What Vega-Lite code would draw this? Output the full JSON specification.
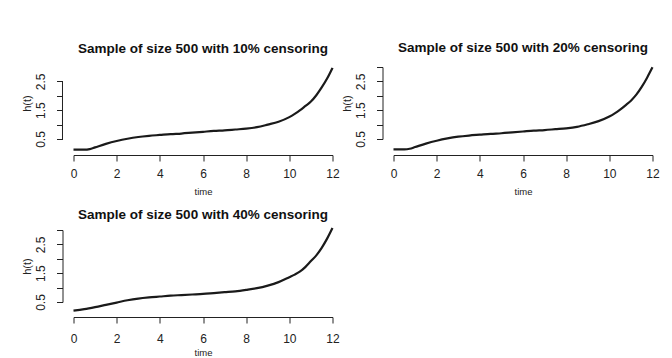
{
  "$schema": "https://vega.github.io/schema/vega-lite/v6.json",
  "background": "white",
  "padding": {"left": 20.5, "top": 41, "right": 5, "bottom": 2},
  "config": {
    "font": "Liberation Sans",
    "view": {"stroke": null},
    "axis": {
      "grid": false,
      "domainColor": "#222",
      "tickColor": "#222",
      "labelColor": "#222",
      "titleColor": "#222",
      "labelFont": "Liberation Sans",
      "titleFont": "Liberation Sans",
      "labelFontSize": 12,
      "titleFontWeight": "normal",
      "tickSize": 6,
      "labelFlush": false,
      "labelOverlap": false
    },
    "title": {"fontSize": 13.5, "fontWeight": "bold", "color": "#111", "frame": "group", "anchor": "middle", "baseline": "alphabetic", "font": "Liberation Sans"}
  },
  "datasets": {
    "p10": [
      {"time": 0, "h": 0.13}, {"time": 0.5, "h": 0.13}, {"time": 0.75, "h": 0.15}, {"time": 1, "h": 0.21},
      {"time": 1.5, "h": 0.33}, {"time": 2, "h": 0.43}, {"time": 2.5, "h": 0.51}, {"time": 3, "h": 0.57},
      {"time": 3.5, "h": 0.61}, {"time": 4, "h": 0.64}, {"time": 4.5, "h": 0.67}, {"time": 5, "h": 0.69},
      {"time": 5.5, "h": 0.72}, {"time": 6, "h": 0.75}, {"time": 6.5, "h": 0.78}, {"time": 7, "h": 0.8},
      {"time": 7.5, "h": 0.83}, {"time": 8, "h": 0.86}, {"time": 8.5, "h": 0.91}, {"time": 9, "h": 1.0},
      {"time": 9.5, "h": 1.1}, {"time": 10, "h": 1.26}, {"time": 10.25, "h": 1.37}, {"time": 10.5, "h": 1.5},
      {"time": 10.75, "h": 1.65}, {"time": 11, "h": 1.8}, {"time": 11.25, "h": 2.02}, {"time": 11.5, "h": 2.29},
      {"time": 11.75, "h": 2.6}, {"time": 12, "h": 2.97}
    ],
    "p20": [
      {"time": 0, "h": 0.14}, {"time": 0.5, "h": 0.14}, {"time": 0.75, "h": 0.16}, {"time": 1, "h": 0.22},
      {"time": 1.5, "h": 0.34}, {"time": 2, "h": 0.44}, {"time": 2.5, "h": 0.52}, {"time": 3, "h": 0.58},
      {"time": 3.5, "h": 0.62}, {"time": 4, "h": 0.65}, {"time": 4.5, "h": 0.68}, {"time": 5, "h": 0.7},
      {"time": 5.5, "h": 0.73}, {"time": 6, "h": 0.76}, {"time": 6.5, "h": 0.79}, {"time": 7, "h": 0.81},
      {"time": 7.5, "h": 0.84}, {"time": 8, "h": 0.87}, {"time": 8.5, "h": 0.92}, {"time": 9, "h": 1.01},
      {"time": 9.5, "h": 1.12}, {"time": 10, "h": 1.28}, {"time": 10.25, "h": 1.39}, {"time": 10.5, "h": 1.52},
      {"time": 10.75, "h": 1.67}, {"time": 11, "h": 1.83}, {"time": 11.25, "h": 2.04}, {"time": 11.5, "h": 2.31},
      {"time": 11.75, "h": 2.63}, {"time": 12, "h": 2.99}
    ],
    "p40": [
      {"time": 0, "h": 0.2}, {"time": 0.5, "h": 0.25}, {"time": 1, "h": 0.32}, {"time": 1.5, "h": 0.4},
      {"time": 2, "h": 0.48}, {"time": 2.5, "h": 0.56}, {"time": 3, "h": 0.62}, {"time": 3.5, "h": 0.66},
      {"time": 4, "h": 0.69}, {"time": 4.5, "h": 0.72}, {"time": 5, "h": 0.74}, {"time": 5.5, "h": 0.76},
      {"time": 6, "h": 0.78}, {"time": 6.5, "h": 0.81}, {"time": 7, "h": 0.84}, {"time": 7.5, "h": 0.87},
      {"time": 8, "h": 0.92}, {"time": 8.5, "h": 0.98}, {"time": 9, "h": 1.07}, {"time": 9.5, "h": 1.19},
      {"time": 10, "h": 1.36}, {"time": 10.25, "h": 1.45}, {"time": 10.5, "h": 1.56}, {"time": 10.75, "h": 1.72},
      {"time": 11, "h": 1.92}, {"time": 11.25, "h": 2.12}, {"time": 11.5, "h": 2.38}, {"time": 11.75, "h": 2.7},
      {"time": 12, "h": 3.07}
    ]
  },
  "columns": 2,
  "spacing": {"row": 91, "column": 61},
  "bounds": "flush",
  "concat": [
    {
      "width": 259, "height": 72,
      "title": {"text": "Sample of size 500 with 10% censoring", "offset": 8},
      "data": {"name": "p10"},
      "layer": [
        {
          "mark": {"type": "line", "color": "#1a1a1a", "strokeWidth": 2.2, "interpolate": "monotone"},
          "encoding": {
            "x": {"field": "time", "type": "quantitative", "scale": {"domain": [0, 12], "nice": false, "zero": false},
                  "axis": {"values": [0, 2, 4, 6, 8, 10, 12], "title": "time", "offset": 16, "labelPadding": 7, "titleFontSize": 9.5, "titlePadding": 7}},
            "y": {"field": "h", "type": "quantitative", "scale": {"domain": [0.5, 3], "nice": false, "zero": false},
                  "axis": {"values": [0.5, 1, 1.5, 2, 2.5], "domain": false, "format": ".1f", "labelExpr": "(datum.value == 1 || datum.value == 2 || datum.value == 3) ? '' : datum.label",
                           "labelAngle": -90, "labelAlign": "center", "labelBaseline": "bottom", "labelPadding": 9.5, "offset": 11,
                           "title": "h(t)", "titleFontSize": 11, "titlePadding": 2}}
          }
        },
        {
          "data": {"values": [{}]},
          "mark": {"type": "rule", "color": "#222", "strokeWidth": 1},
          "encoding": {
            "x": {"datum": -0.51, "type": "quantitative", "scale": {"domain": [0, 12], "nice": false, "zero": false},
                  "axis": {"values": [0, 2, 4, 6, 8, 10, 12], "title": "time", "offset": 16, "labelPadding": 7, "titleFontSize": 9.5, "titlePadding": 7}},
            "y": {"datum": 0.5, "type": "quantitative", "scale": {"domain": [0.5, 3], "nice": false, "zero": false},
                  "axis": {"values": [0.5, 1, 1.5, 2, 2.5], "domain": false, "format": ".1f", "labelExpr": "(datum.value == 1 || datum.value == 2 || datum.value == 3) ? '' : datum.label",
                           "labelAngle": -90, "labelAlign": "center", "labelBaseline": "bottom", "labelPadding": 9.5, "offset": 11,
                           "title": "h(t)", "titleFontSize": 11, "titlePadding": 2}},
            "y2": {"datum": 2.5}
          }
        }
      ]
    },
    {
      "width": 259, "height": 72,
      "title": {"text": "Sample of size 500 with 20% censoring", "offset": 8},
      "data": {"name": "p20"},
      "mark": {"type": "line", "color": "#1a1a1a", "strokeWidth": 2.2, "interpolate": "monotone"},
      "encoding": {
        "x": {"field": "time", "type": "quantitative", "scale": {"domain": [0, 12], "nice": false, "zero": false},
              "axis": {"values": [0, 2, 4, 6, 8, 10, 12], "title": "time", "offset": 16, "labelPadding": 7, "titleFontSize": 9.5, "titlePadding": 7}},
        "y": {"field": "h", "type": "quantitative", "scale": {"domain": [0.5, 3], "nice": false, "zero": false},
              "axis": {"values": [0.5, 1, 1.5, 2, 2.5, 3], "format": ".1f", "labelExpr": "(datum.value == 1 || datum.value == 2 || datum.value == 3) ? '' : datum.label",
                       "labelAngle": -90, "labelAlign": "center", "labelBaseline": "bottom", "labelPadding": 9.5, "offset": 11,
                       "title": "h(t)", "titleFontSize": 11, "titlePadding": 2}}
      }
    },
    {
      "width": 259, "height": 72,
      "title": {"text": "Sample of size 500 with 40% censoring", "offset": 2},
      "data": {"name": "p40"},
      "mark": {"type": "line", "color": "#1a1a1a", "strokeWidth": 2.2, "interpolate": "monotone"},
      "encoding": {
        "x": {"field": "time", "type": "quantitative", "scale": {"domain": [0, 12], "nice": false, "zero": false},
              "axis": {"values": [0, 2, 4, 6, 8, 10, 12], "title": "time", "offset": 15, "labelPadding": 10, "titleFontSize": 9.5, "titlePadding": 3}},
        "y": {"field": "h", "type": "quantitative", "scale": {"domain": [0.5, 3], "nice": false, "zero": false},
              "axis": {"values": [0.5, 1, 1.5, 2, 2.5, 3], "format": ".1f", "labelExpr": "(datum.value == 1 || datum.value == 2 || datum.value == 3) ? '' : datum.label",
                       "labelAngle": -90, "labelAlign": "center", "labelBaseline": "bottom", "labelPadding": 9.5, "offset": 11,
                       "title": "h(t)", "titleFontSize": 11, "titlePadding": 2}}
      }
    }
  ]
}
